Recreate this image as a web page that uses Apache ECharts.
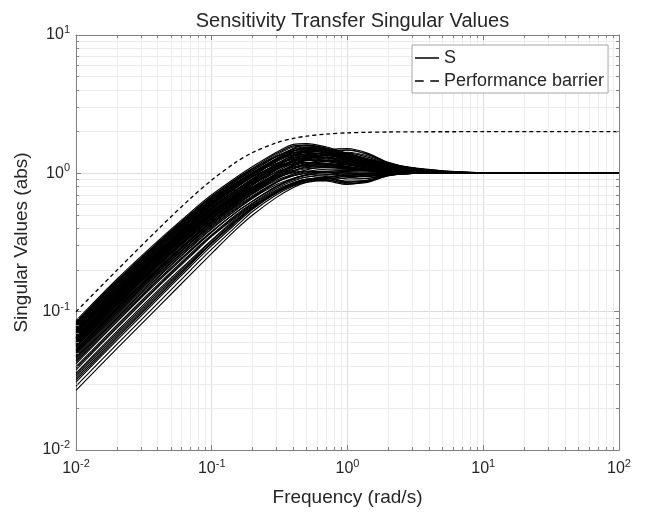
<!DOCTYPE html>
<html>
<head>
<meta charset="utf-8">
<script src="https://cdn.jsdelivr.net/npm/echarts@6/dist/echarts.min.js"></script>
<style>
  html, body { margin: 0; padding: 0; background: #ffffff; }
  #chart { width: 646px; height: 512px; }
</style>
</head>
<body>
<div id="chart"></div>
<script>
// Frequency grid (rad/s) shared by every curve
const freq = [0.01, 0.02, 0.04, 0.07, 0.1, 0.15, 0.2, 0.3, 0.4, 0.5, 0.7, 1, 1.4, 2, 3, 5, 10, 30, 100];

// Performance barrier (dashed)
const barrier = [0.0999, 0.199, 0.392, 0.661, 0.894, 1.2, 1.414, 1.664, 1.789, 1.857, 1.923, 1.961, 1.98, 1.99, 1.996, 1.998, 2.0, 2.0, 2.0];

// Singular values of S for each sampled plant: strongly peaked curves
const sUpper = [
  [0.086, 0.172, 0.324, 0.525, 0.70, 0.93, 1.12, 1.42, 1.62, 1.64, 1.55, 1.40, 1.28, 1.17, 1.09, 1.035, 1.01, 1.0, 1.0],
  [0.082, 0.164, 0.312, 0.504, 0.67, 0.89, 1.07, 1.36, 1.55, 1.58, 1.50, 1.36, 1.25, 1.15, 1.08, 1.03, 1.01, 1.0, 1.0],
  [0.079, 0.158, 0.30, 0.487, 0.65, 0.87, 1.04, 1.32, 1.50, 1.55, 1.48, 1.33, 1.22, 1.13, 1.07, 1.03, 1.005, 1.0, 1.0],
  [0.076, 0.152, 0.292, 0.472, 0.63, 0.84, 1.01, 1.28, 1.45, 1.50, 1.44, 1.30, 1.20, 1.12, 1.06, 1.02, 1.005, 1.0, 1.0],
  [0.073, 0.146, 0.279, 0.455, 0.61, 0.81, 0.98, 1.24, 1.40, 1.46, 1.40, 1.27, 1.18, 1.10, 1.05, 1.02, 1.0, 1.0, 1.0],
  [0.070, 0.14, 0.267, 0.438, 0.59, 0.78, 0.95, 1.21, 1.37, 1.42, 1.36, 1.25, 1.16, 1.09, 1.04, 1.015, 1.0, 1.0, 1.0],
  [0.068, 0.136, 0.259, 0.423, 0.57, 0.76, 0.92, 1.17, 1.33, 1.38, 1.33, 1.22, 1.14, 1.08, 1.04, 1.01, 1.0, 1.0, 1.0],
  [0.065, 0.13, 0.251, 0.409, 0.55, 0.73, 0.89, 1.13, 1.28, 1.34, 1.30, 1.20, 1.13, 1.07, 1.03, 1.01, 1.0, 1.0, 1.0],
  [0.063, 0.126, 0.243, 0.395, 0.53, 0.71, 0.86, 1.10, 1.25, 1.30, 1.27, 1.18, 1.11, 1.06, 1.03, 1.01, 1.0, 1.0, 1.0],
  [0.060, 0.12, 0.231, 0.378, 0.51, 0.68, 0.83, 1.06, 1.21, 1.27, 1.24, 1.16, 1.10, 1.05, 1.02, 1.01, 1.0, 1.0, 1.0],
  [0.058, 0.116, 0.223, 0.364, 0.49, 0.66, 0.80, 1.03, 1.18, 1.24, 1.22, 1.15, 1.09, 1.05, 1.02, 1.005, 1.0, 1.0, 1.0],
  [0.055, 0.11, 0.211, 0.347, 0.47, 0.63, 0.77, 0.99, 1.13, 1.19, 1.18, 1.12, 1.07, 1.04, 1.02, 1.005, 1.0, 1.0, 1.0],
  [0.078, 0.156, 0.30, 0.483, 0.64, 0.85, 1.01, 1.24, 1.35, 1.36, 1.30, 1.20, 1.13, 1.07, 1.03, 1.01, 1.0, 1.0, 1.0],
  [0.062, 0.124, 0.239, 0.388, 0.52, 0.70, 0.86, 1.12, 1.33, 1.47, 1.50, 1.36, 1.24, 1.14, 1.07, 1.02, 1.0, 1.0, 1.0],
  [0.071, 0.142, 0.271, 0.445, 0.60, 0.80, 0.98, 1.28, 1.52, 1.60, 1.52, 1.37, 1.26, 1.15, 1.08, 1.03, 1.005, 1.0, 1.0],
  [0.080, 0.16, 0.304, 0.49, 0.65, 0.85, 1.00, 1.18, 1.26, 1.28, 1.24, 1.16, 1.10, 1.05, 1.02, 1.01, 1.0, 1.0, 1.0],
  [0.075, 0.15, 0.288, 0.467, 0.625, 0.83, 1.00, 1.27, 1.45, 1.52, 1.46, 1.31, 1.20, 1.11, 1.05, 1.02, 1.0, 1.0, 1.0],
  [0.067, 0.134, 0.259, 0.422, 0.565, 0.75, 0.91, 1.17, 1.35, 1.44, 1.41, 1.29, 1.19, 1.10, 1.05, 1.02, 1.0, 1.0, 1.0],
  [0.064, 0.128, 0.247, 0.402, 0.54, 0.72, 0.87, 1.12, 1.30, 1.39, 1.38, 1.28, 1.18, 1.10, 1.04, 1.01, 1.0, 1.0, 1.0],
  [0.054, 0.108, 0.207, 0.339, 0.46, 0.62, 0.76, 0.99, 1.16, 1.28, 1.35, 1.30, 1.20, 1.10, 1.04, 1.01, 1.0, 1.0, 1.0],
  [0.072, 0.144, 0.275, 0.448, 0.60, 0.79, 0.94, 1.16, 1.29, 1.33, 1.29, 1.20, 1.13, 1.07, 1.03, 1.01, 1.0, 1.0, 1.0],
  [0.084, 0.168, 0.316, 0.511, 0.68, 0.90, 1.08, 1.33, 1.46, 1.48, 1.42, 1.30, 1.20, 1.11, 1.05, 1.02, 1.0, 1.0, 1.0],
  [0.077, 0.154, 0.295, 0.478, 0.64, 0.85, 1.02, 1.27, 1.40, 1.42, 1.36, 1.26, 1.18, 1.11, 1.06, 1.025, 1.005, 1.0, 1.0],
  [0.069, 0.138, 0.264, 0.432, 0.58, 0.78, 0.95, 1.23, 1.44, 1.54, 1.50, 1.36, 1.25, 1.15, 1.09, 1.04, 1.01, 1.0, 1.0],
  [0.061, 0.122, 0.234, 0.383, 0.515, 0.69, 0.84, 1.07, 1.22, 1.30, 1.31, 1.24, 1.16, 1.09, 1.04, 1.015, 1.0, 1.0, 1.0],
  [0.081, 0.162, 0.308, 0.497, 0.66, 0.88, 1.05, 1.33, 1.49, 1.52, 1.47, 1.36, 1.26, 1.17, 1.10, 1.045, 1.01, 1.0, 1.0],
  [0.066, 0.132, 0.253, 0.412, 0.55, 0.73, 0.88, 1.10, 1.22, 1.25, 1.22, 1.15, 1.10, 1.06, 1.03, 1.01, 1.0, 1.0, 1.0],
  [0.083, 0.166, 0.314, 0.51, 0.68, 0.91, 1.09, 1.39, 1.58, 1.60, 1.52, 1.38, 1.27, 1.16, 1.09, 1.035, 1.01, 1.0, 1.0],
  [0.070, 0.14, 0.268, 0.438, 0.59, 0.79, 0.96, 1.23, 1.41, 1.48, 1.44, 1.32, 1.22, 1.13, 1.07, 1.03, 1.005, 1.0, 1.0],
  [0.065, 0.13, 0.25, 0.408, 0.55, 0.73, 0.89, 1.14, 1.29, 1.35, 1.35, 1.26, 1.17, 1.09, 1.04, 1.01, 1.0, 1.0, 1.0],
  [0.060, 0.12, 0.231, 0.378, 0.51, 0.68, 0.83, 1.07, 1.25, 1.36, 1.41, 1.33, 1.22, 1.12, 1.06, 1.02, 1.0, 1.0, 1.0]
];

// Curves with a second hump near 1 rad/s
const sHump = [
  [0.066, 0.132, 0.255, 0.416, 0.56, 0.75, 0.91, 1.17, 1.34, 1.42, 1.48, 1.51, 1.40, 1.20, 1.09, 1.03, 1.005, 1.0, 1.0],
  [0.059, 0.118, 0.227, 0.371, 0.50, 0.67, 0.82, 1.06, 1.23, 1.33, 1.42, 1.47, 1.37, 1.19, 1.08, 1.03, 1.0, 1.0, 1.0],
  [0.074, 0.148, 0.284, 0.462, 0.62, 0.82, 0.99, 1.25, 1.40, 1.45, 1.46, 1.48, 1.38, 1.19, 1.08, 1.03, 1.0, 1.0, 1.0],
  [0.052, 0.104, 0.203, 0.333, 0.45, 0.61, 0.75, 0.98, 1.15, 1.26, 1.36, 1.42, 1.34, 1.18, 1.08, 1.02, 1.0, 1.0, 1.0],
  [0.063, 0.126, 0.242, 0.394, 0.53, 0.70, 0.85, 1.08, 1.22, 1.30, 1.37, 1.40, 1.31, 1.17, 1.08, 1.03, 1.0, 1.0, 1.0],
  [0.053, 0.106, 0.203, 0.332, 0.45, 0.61, 0.75, 0.97, 1.14, 1.26, 1.38, 1.36, 1.25, 1.14, 1.07, 1.03, 1.005, 1.0, 1.0]
];

// Moderately peaked curves
const sMid = [
  [0.064, 0.128, 0.243, 0.395, 0.53, 0.70, 0.84, 1.02, 1.11, 1.15, 1.14, 1.10, 1.06, 1.03, 1.01, 1.0, 1.0, 1.0, 1.0],
  [0.056, 0.112, 0.215, 0.35, 0.47, 0.63, 0.76, 0.95, 1.05, 1.10, 1.12, 1.09, 1.05, 1.03, 1.01, 1.0, 1.0, 1.0, 1.0],
  [0.050, 0.10, 0.194, 0.318, 0.43, 0.58, 0.71, 0.91, 1.04, 1.12, 1.17, 1.15, 1.10, 1.05, 1.02, 1.0, 1.0, 1.0, 1.0],
  [0.047, 0.094, 0.182, 0.301, 0.41, 0.55, 0.67, 0.86, 0.97, 1.03, 1.07, 1.07, 1.05, 1.03, 1.01, 1.0, 1.0, 1.0, 1.0],
  [0.053, 0.106, 0.203, 0.333, 0.45, 0.61, 0.74, 0.95, 1.09, 1.17, 1.22, 1.18, 1.11, 1.06, 1.02, 1.0, 1.0, 1.0, 1.0],
  [0.044, 0.088, 0.17, 0.28, 0.38, 0.52, 0.63, 0.81, 0.92, 0.98, 1.03, 1.05, 1.04, 1.02, 1.01, 1.0, 1.0, 1.0, 1.0],
  [0.069, 0.138, 0.263, 0.427, 0.57, 0.75, 0.89, 1.08, 1.17, 1.20, 1.18, 1.12, 1.07, 1.04, 1.02, 1.0, 1.0, 1.0, 1.0],
  [0.057, 0.114, 0.219, 0.357, 0.48, 0.64, 0.78, 1.00, 1.15, 1.24, 1.29, 1.24, 1.15, 1.08, 1.03, 1.01, 1.0, 1.0, 1.0],
  [0.061, 0.122, 0.235, 0.381, 0.51, 0.67, 0.80, 0.96, 1.02, 1.03, 1.02, 1.00, 0.99, 1.0, 1.0, 1.0, 1.0, 1.0, 1.0],
  [0.049, 0.098, 0.19, 0.312, 0.42, 0.57, 0.69, 0.87, 0.96, 1.00, 1.02, 1.01, 1.0, 1.0, 1.0, 1.0, 1.0, 1.0, 1.0],
  [0.060, 0.12, 0.231, 0.374, 0.50, 0.66, 0.79, 0.98, 1.08, 1.12, 1.11, 1.07, 1.04, 1.02, 1.01, 1.0, 1.0, 1.0, 1.0],
  [0.051, 0.102, 0.198, 0.325, 0.44, 0.59, 0.72, 0.93, 1.08, 1.18, 1.24, 1.21, 1.13, 1.07, 1.03, 1.01, 1.0, 1.0, 1.0],
  [0.046, 0.092, 0.178, 0.294, 0.40, 0.54, 0.66, 0.86, 0.99, 1.06, 1.11, 1.10, 1.06, 1.03, 1.01, 1.0, 1.0, 1.0, 1.0],
  [0.056, 0.112, 0.215, 0.35, 0.47, 0.63, 0.76, 0.93, 1.01, 1.04, 1.03, 0.97, 0.95, 0.99, 1.0, 1.0, 1.0, 1.0, 1.0],
  [0.058, 0.116, 0.223, 0.364, 0.49, 0.65, 0.79, 0.99, 1.11, 1.16, 1.17, 1.12, 1.08, 1.04, 1.02, 1.005, 1.0, 1.0, 1.0],
  [0.074, 0.148, 0.283, 0.46, 0.61, 0.80, 0.95, 1.13, 1.20, 1.20, 1.16, 1.10, 1.06, 1.03, 1.01, 1.0, 1.0, 1.0, 1.0],
  [0.050, 0.10, 0.193, 0.316, 0.43, 0.58, 0.71, 0.89, 0.99, 1.03, 1.02, 0.94, 0.92, 0.98, 1.0, 1.0, 1.0, 1.0, 1.0],
  [0.057, 0.114, 0.219, 0.357, 0.48, 0.64, 0.78, 0.98, 1.09, 1.14, 1.15, 1.10, 1.06, 1.03, 1.01, 1.0, 1.0, 1.0, 1.0],
  [0.052, 0.104, 0.20, 0.33, 0.445, 0.60, 0.73, 0.92, 1.03, 1.08, 1.10, 1.08, 1.05, 1.02, 1.01, 1.0, 1.0, 1.0, 1.0]
];

// Low-gain curves that stay near 1 or dip below it around crossover
const sLower = [
  [0.036, 0.072, 0.142, 0.238, 0.33, 0.47, 0.58, 0.74, 0.84, 0.89, 0.88, 0.83, 0.88, 0.98, 1.0, 1.0, 1.0, 1.0, 1.0],
  [0.039, 0.078, 0.153, 0.258, 0.355, 0.49, 0.60, 0.76, 0.86, 0.91, 0.92, 0.86, 0.89, 0.98, 1.0, 1.0, 1.0, 1.0, 1.0],
  [0.042, 0.084, 0.164, 0.274, 0.375, 0.52, 0.63, 0.80, 0.90, 0.94, 0.96, 0.91, 0.92, 0.99, 1.0, 1.0, 1.0, 1.0, 1.0],
  [0.045, 0.09, 0.175, 0.29, 0.395, 0.54, 0.66, 0.83, 0.92, 0.97, 0.99, 0.95, 0.95, 0.99, 1.0, 1.0, 1.0, 1.0, 1.0],
  [0.035, 0.07, 0.138, 0.233, 0.325, 0.46, 0.57, 0.73, 0.83, 0.89, 0.93, 0.95, 0.97, 0.99, 1.0, 1.0, 1.0, 1.0, 1.0],
  [0.040, 0.08, 0.157, 0.264, 0.36, 0.50, 0.61, 0.78, 0.88, 0.94, 0.98, 0.99, 0.99, 1.0, 1.0, 1.0, 1.0, 1.0, 1.0],
  [0.048, 0.096, 0.186, 0.304, 0.41, 0.56, 0.68, 0.86, 0.96, 1.01, 1.04, 1.03, 1.02, 1.01, 1.0, 1.0, 1.0, 1.0, 1.0],
  [0.034, 0.068, 0.134, 0.227, 0.315, 0.45, 0.56, 0.72, 0.82, 0.88, 0.93, 0.97, 0.99, 1.0, 1.0, 1.0, 1.0, 1.0, 1.0],
  [0.043, 0.086, 0.168, 0.28, 0.38, 0.52, 0.63, 0.80, 0.91, 0.97, 1.01, 1.01, 1.0, 1.0, 1.0, 1.0, 1.0, 1.0, 1.0],
  [0.038, 0.076, 0.15, 0.252, 0.35, 0.48, 0.59, 0.75, 0.85, 0.90, 0.90, 0.84, 0.86, 0.96, 1.0, 1.0, 1.0, 1.0, 1.0],
  [0.027, 0.054, 0.107, 0.186, 0.264, 0.39, 0.50, 0.67, 0.79, 0.86, 0.89, 0.85, 0.87, 0.96, 1.0, 1.0, 1.0, 1.0, 1.0],
  [0.029, 0.058, 0.115, 0.20, 0.283, 0.41, 0.53, 0.70, 0.81, 0.87, 0.91, 0.93, 0.96, 0.99, 1.0, 1.0, 1.0, 1.0, 1.0],
  [0.031, 0.062, 0.123, 0.213, 0.30, 0.43, 0.55, 0.72, 0.83, 0.89, 0.92, 0.88, 0.89, 0.97, 1.0, 1.0, 1.0, 1.0, 1.0],
  [0.032, 0.064, 0.127, 0.22, 0.31, 0.44, 0.56, 0.73, 0.84, 0.90, 0.95, 0.97, 0.99, 1.0, 1.0, 1.0, 1.0, 1.0, 1.0],
  [0.033, 0.066, 0.13, 0.225, 0.315, 0.45, 0.57, 0.74, 0.85, 0.91, 0.93, 0.87, 0.88, 0.97, 1.0, 1.0, 1.0, 1.0, 1.0]
];

// Axis decades (tick labels are 10^e)
const xTickExp = [-2, -1, 0, 1, 2];
const yTickExp = [-2, -1, 0, 1];

const textColor = '#262626';
const boxColor = '#808080';
const fontFamily = '"Liberation Sans", Arial, Helvetica, sans-serif';

const gridBox = { left: 76, right: 27, top: 35, bottom: 62 };
const plotW = 646 - gridBox.left - gridBox.right;
const plotH = 512 - gridBox.top - gridBox.bottom;
const xMin = Math.pow(10, xTickExp[0]), xMax = Math.pow(10, xTickExp[xTickExp.length - 1]);
const yMin = Math.pow(10, yTickExp[0]), yMax = Math.pow(10, yTickExp[yTickExp.length - 1]);

// minor positions 2..9 within each decade
function minorValues(exps) {
  const out = [];
  for (let i = 0; i < exps.length - 1; i++) {
    for (let m = 2; m <= 9; m++) out.push(m * Math.pow(10, exps[i]));
  }
  return out;
}
const xMinor = minorValues(xTickExp);
const yMinor = minorValues(yTickExp);

// short inward minor ticks: pixel length turned into a factor on the log scale
const minorLen = 3;
const fx = Math.pow(10, minorLen * (xTickExp.length - 1) / plotW);
const fy = Math.pow(10, minorLen * (yTickExp.length - 1) / plotH);

const minorGrid = [];
xMinor.forEach(v => minorGrid.push({ xAxis: v }));
yMinor.forEach(v => minorGrid.push({ yAxis: v }));

const minorTicks = [];
xMinor.forEach(v => {
  minorTicks.push([{ coord: [v, yMin] }, { coord: [v, yMin * fy] }]);
  minorTicks.push([{ coord: [v, yMax / fy] }, { coord: [v, yMax] }]);
});
yMinor.forEach(v => {
  minorTicks.push([{ coord: [xMin, v] }, { coord: [xMin * fx, v] }]);
  minorTicks.push([{ coord: [xMax / fx, v] }, { coord: [xMax, v] }]);
});

function powLabel(v) {
  const e = Math.round(Math.log10(v));
  return '{b|10}{s|' + e + '}';
}
const labelRich = {
  b: { fontSize: 16, color: textColor, fontFamily: fontFamily },
  s: { fontSize: 11, color: textColor, fontFamily: fontFamily, padding: [0, 0, 10, 0] }
};

function logAxis(extra) {
  return Object.assign({
    type: 'log',
    logBase: 10,
    axisLine: { show: true, onZero: false, lineStyle: { color: boxColor, width: 1 } },
    axisTick: { show: true, inside: true, length: 5, lineStyle: { color: boxColor } },
    splitLine: { show: false },
    axisLabel: { show: false }
  }, extra);
}

const curveSeries = [].concat(sUpper, sHump, sMid, sLower).map(vals => ({
  type: 'line',
  name: 'S',
  data: vals.map((v, i) => [freq[i], v]),
  showSymbol: false,
  symbol: 'none',
  smooth: 0.3,
  lineStyle: { color: '#000000', width: 1.1 },
  itemStyle: { color: '#000000' },
  z: 3,
  silent: true
}));

// legend glyphs: solid and dashed line samples
const solidIcon = 'path://M0,0H24V1.5H0Z';
const dashIcon = 'path://M0,0H8V1.4H0Z M14,0H22V1.4H14Z';

const option = {
  animation: false,
  backgroundColor: '#ffffff',
  textStyle: { fontFamily: fontFamily },
  title: {
    text: 'Sensitivity Transfer Singular Values',
    left: gridBox.left + plotW / 2,
    textAlign: 'center',
    top: 6,
    textStyle: { fontSize: 20, fontWeight: 'normal', color: textColor, fontFamily: fontFamily }
  },
  legend: {
    data: [
      { name: 'S', icon: solidIcon },
      { name: 'Performance barrier', icon: dashIcon }
    ],
    orient: 'vertical',
    left: 412,
    top: 45,
    itemWidth: 24,
    itemHeight: 12,
    itemGap: 5,
    padding: [4, 4, 3, 3],
    backgroundColor: '#ffffff',
    borderColor: '#a6a6a6',
    borderWidth: 1,
    borderRadius: 0,
    z: 10,
    itemStyle: { color: '#000000', borderWidth: 0 },
    textStyle: { fontSize: 18, color: textColor, fontFamily: fontFamily }
  },
  grid: { left: gridBox.left, right: gridBox.right, top: gridBox.top, bottom: gridBox.bottom, containLabel: false },
  xAxis: [
    logAxis({
      min: xMin, max: xMax, position: 'bottom',
      name: 'Frequency (rad/s)', nameLocation: 'middle', nameGap: 38,
      nameTextStyle: { fontSize: 19, color: textColor, fontFamily: fontFamily },
      splitLine: { show: true, lineStyle: { color: '#dcdcdc', width: 1 } },
      axisLabel: { show: true, margin: 8, formatter: powLabel, rich: labelRich }
    }),
    logAxis({ min: xMin, max: xMax, position: 'top' })
  ],
  yAxis: [
    logAxis({
      min: yMin, max: yMax, position: 'left',
      name: 'Singular Values (abs)', nameLocation: 'middle', nameGap: 41, nameRotate: 90,
      nameTextStyle: { fontSize: 19, color: textColor, fontFamily: fontFamily },
      splitLine: { show: true, lineStyle: { color: '#dcdcdc', width: 1 } },
      axisLabel: { show: true, margin: 6, formatter: powLabel, rich: labelRich }
    }),
    logAxis({ min: yMin, max: yMax, position: 'right' })
  ],
  series: [
    {
      type: 'line',
      name: 'grid-minor',
      data: [],
      silent: true,
      z: 1,
      markLine: {
        silent: true,
        z: 1,
        symbol: 'none',
        label: { show: false },
        emphasis: { disabled: true },
        lineStyle: { color: '#ebebeb', width: 1, type: 'solid' },
        data: minorGrid
      }
    },
    {
      type: 'line',
      name: 'tick-minor',
      data: [],
      silent: true,
      z: 6,
      markLine: {
        silent: true,
        z: 6,
        symbol: 'none',
        label: { show: false },
        emphasis: { disabled: true },
        lineStyle: { color: boxColor, width: 1, type: 'solid' },
        data: minorTicks
      }
    },
    ...curveSeries,
    {
      type: 'line',
      name: 'Performance barrier',
      data: barrier.map((v, i) => [freq[i], v]),
      showSymbol: false,
      symbol: 'none',
      smooth: 0.3,
      lineStyle: { color: '#000000', width: 1.3, type: [4, 3] },
      itemStyle: { color: '#000000' },
      z: 4,
      silent: true
    }
  ]
};

const chart = echarts.init(document.getElementById('chart'), null, { renderer: 'canvas' });
chart.setOption(option);
</script>
</body>
</html>
